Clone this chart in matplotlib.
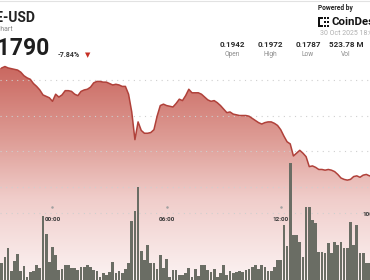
import matplotlib
matplotlib.use('Agg')
import matplotlib.pyplot as plt
import matplotlib.dates as mdates
from matplotlib.colors import LinearSegmentedColormap
from matplotlib.patches import Rectangle
import numpy as np
import pandas as pd

plt.rcParams['font.family'] = ['Roboto', 'DejaVu Sans']

# 10-minute candles (visible part of the 24h window)
times = pd.date_range('2025-10-29 21:20', periods=118, freq='10min')

price = [
    0.1967, 0.1969, 0.1967, 0.1966, 0.1965, 0.1964, 0.1961, 0.1956, 0.1953, 0.1951,
    0.1945, 0.1941, 0.1936, 0.1929, 0.1927, 0.1925, 0.1920, 0.1930, 0.1926, 0.1929,
    0.1935, 0.1935, 0.1934, 0.1930, 0.1928, 0.1934, 0.1936, 0.1937, 0.1940, 0.1946,
    0.1948, 0.1948, 0.1947, 0.1947, 0.1945, 0.1943, 0.1944, 0.1943, 0.1941, 0.1941,
    0.1930, 0.1905, 0.1866, 0.1891, 0.1879, 0.1875, 0.1875, 0.1876, 0.1880, 0.1899,
    0.1914, 0.1916, 0.1914, 0.1913, 0.1912, 0.1917, 0.1923, 0.1921, 0.1928, 0.1937,
    0.1932, 0.1932, 0.1932, 0.1930, 0.1926, 0.1922, 0.1920, 0.1921, 0.1918, 0.1914,
    0.1909, 0.1904, 0.1905, 0.1902, 0.1901, 0.1900, 0.1900, 0.1900, 0.1899, 0.1896,
    0.1893, 0.1890, 0.1888, 0.1890, 0.1891, 0.1891, 0.1889, 0.1886, 0.1880, 0.1871,
    0.1863, 0.1860, 0.1843, 0.1847, 0.1851, 0.1847, 0.1842, 0.1828, 0.1829, 0.1827,
    0.1824, 0.1824, 0.1823, 0.1824, 0.1823, 0.1821, 0.1817, 0.1812, 0.1810, 0.1809,
    0.1810, 0.1814, 0.1815, 0.1813, 0.1816, 0.1817, 0.1815, 0.1815,
]

volume_m = [
    25.5, 34.5, 48, 13.5, 28.5, 39, 13.5, 21, 4.5, 12, 13.5, 22.5, 18, 96, 69, 27,
    49.5, 37.5, 15, 16.5, 22.5, 22.5, 18, 18, 15, 19.5, 19.5, 22.5, 19.5, 15, 13.5,
    4.5, 10.5, 7.5, 12, 27, 10.5, 13.5, 10.5, 16.5, 25.5, 88.5, 103.5, 139.5, 43.5,
    30, 52.5, 25.5, 25.5, 16.5, 37.5, 18, 31.5, 4.5, 15, 15, 7.5, 7.5,
    10.5, 18, 4.5, 16.5, 6, 22.5, 22.5, 15, 12, 16.5, 4.5, 10.5, 22.5, 7.5, 13.5,
    10.5, 12, 13.5, 12, 15, 16.5, 19.5, 22.5, 16.5, 22.5, 19.5, 13.5, 13.5, 19.5,
    30, 30, 82.5, 51, 175.5, 67.5, 67.5, 57, 34.5, 109.5, 109.5, 90, 85.5, 42, 42,
    40.5, 55.5, 40.5, 57, 52.5, 57, 48, 48, 87, 52.5, 82.5, 40.5, 40.5, 25.5, 25.5, 31.5,
]

tick_times = ['2025-10-30 00:00', '2025-10-30 06:00', '2025-10-30 12:00']
tick_labels = ['00:00', '06:00', '12:00']
grid_prices = [0.195, 0.19, 0.185, 0.18]
stat_values = ['0.1942', '0.1972', '0.1787', '523.78 M']
stat_labels = ['Open', 'High', 'Low', 'Vol']

W, H = 370, 280


def fx(px):
    return px / W


def fy(py):
    return 1 - py / H


fig = plt.figure(figsize=(3.7, 2.8), dpi=100)
ax = fig.add_axes([0, 0, 1, 1])
ax.axis('off')

x = mdates.date2num(times)
step = 1 / 144
x0, x1 = x[0] - 0.56 * step, x[0] + 116.16 * step
y0, y1 = 0.16683, 0.20627
ax.set_xlim(x0, x1)
ax.set_ylim(y0, y1)

# gradient fill under the price line
cmap = LinearSegmentedColormap.from_list(
    'fill', [(0, '#fcf3f3'), (0.29, '#f0cdca'), (0.5, '#de9d96'),
             (0.77, '#c9665e'), (1, '#c45c54')])
im = ax.imshow(np.linspace(0, 1, 256).reshape(-1, 1), extent=[x0, x1, y0, y1],
               origin='lower', aspect='auto', cmap=cmap, zorder=1)
xf = np.r_[x0, x, x1]
pf = np.r_[price[0], price, price[-1]]
poly = ax.fill_between(xf, pf, y0, facecolor='none', edgecolor='none')
im.set_clip_path(poly.get_paths()[0], transform=ax.transData)

for g in grid_prices:
    ax.axhline(g, color='#cfcfcf', lw=0.8, ls=(0, (1, 4)), zorder=2)

ax.plot(x, price, color='#b0413a', lw=1.1, zorder=4)

# volume bars
axv = fig.add_axes([0, 0, 1, 1], sharex=ax)
axv.axis('off')
axv.set_ylim(0, 420)
axv.axhline(100, color='#cfcfcf', lw=0.8, ls=(0, (1, 4)), zorder=1)
axv.bar(x, volume_m, width=0.86 * step, color='#6a6d64', zorder=3)

for t, lab in zip(tick_times, tick_labels):
    xt = mdates.date2num(pd.Timestamp(t))
    axv.plot(xt, fy(207), marker='o', ms=0.8, color='#a0a0a0',
             transform=axv.get_xaxis_transform(), zorder=4)
    axv.text(xt, fy(219.5), lab, transform=axv.get_xaxis_transform(),
             ha='center', va='center', fontsize=4.6, fontweight='bold',
             color='#3a3a3a', zorder=5)
fig.text(fx(362), fy(215), '100M', ha='left', va='center', fontsize=4.6,
         fontweight='bold', color='#3a3a3a')

# header
fig.add_artist(plt.Line2D([0, 1], [fy(1), fy(1)], color='#e2e2e2', lw=0.8))
fig.text(fx(35.5), fy(18), 'DOGE-USD', ha='right', va='center', fontsize=10,
         fontweight='bold', color='#222222')
fig.text(fx(13), fy(29.5), 'Price Chart', ha='right', va='center', fontsize=5,
         color='#8a8a8a')
fig.text(fx(50.5), fy(48.5), '0.1790', ha='right', va='center', fontsize=16.5,
         fontweight='bold', color='#1e1e1e')
fig.text(fx(58), fy(55), '-7.84%', ha='left', va='center', fontsize=5,
         fontweight='bold', color='#333333')
fig.text(fx(88), fy(55), '\u25BC', ha='center', va='center', fontsize=5,
         color='#c62f24', family=['DejaVu Sans'])

fig.text(fx(318), fy(8), 'Powered by', ha='left', va='center', fontsize=4.8,
         fontweight='bold', color='#222222')
# CoinDesk mark
for (rx, ry, rw, rh) in [(318, 17, 2, 10), (318, 17, 5, 2), (318, 25, 5, 2),
                         (324, 17, 2, 2), (327, 17, 2, 2), (324, 21, 2, 2),
                         (327, 21, 2, 2), (324, 25, 2, 2), (327, 25, 2, 2)]:
    fig.add_artist(Rectangle((fx(rx), fy(ry + rh)), rw / W, rh / H,
                             color='#111111', lw=0))
fig.text(fx(331), fy(22), 'CoinDesk', ha='left', va='center', fontsize=8.2,
         fontweight='bold', color='#111111')
fig.text(fx(320), fy(33.5), '30 Oct 2025 18:00 UTC', ha='left', va='center',
         fontsize=5, color='#b0b0b0')

for cx, v, lab in zip([232, 270, 308, 346], stat_values, stat_labels):
    fig.text(fx(cx), fy(44.5), v, ha='center', va='center', fontsize=5.8,
             fontweight='bold', color='#2a2a2a')
    fig.text(fx(cx), fy(54.5), lab, ha='center', va='center', fontsize=4.8,
             color='#8c8c8c')

fig.savefig('out.png', dpi=100, facecolor='white')
